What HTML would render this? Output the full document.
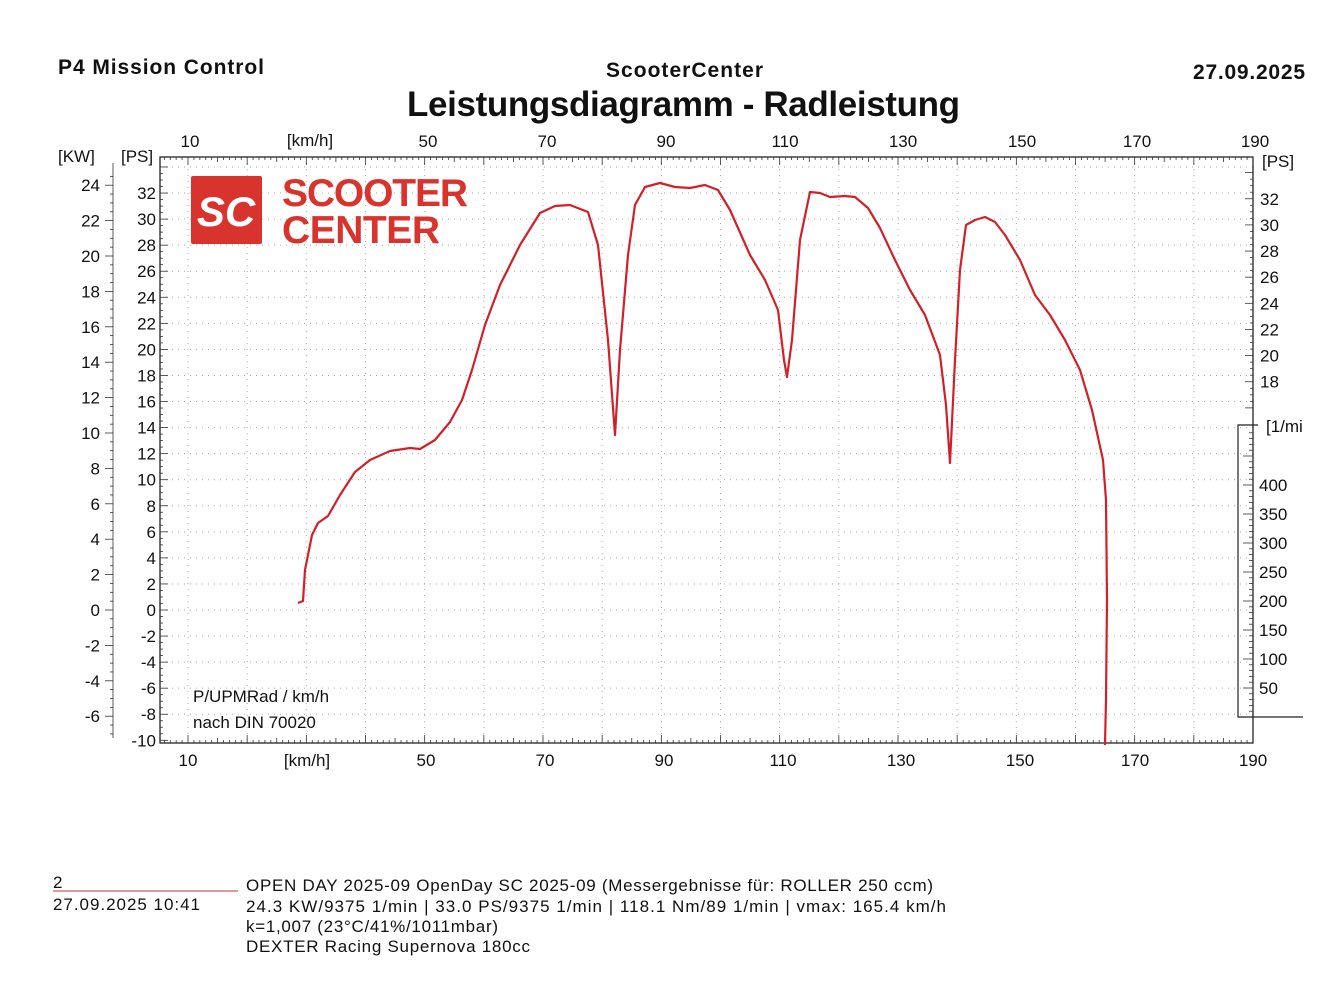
<!DOCTYPE html>
<html><head><meta charset="utf-8"><style>
body{margin:0;background:#fff;width:1321px;height:981px;overflow:hidden;font-family:"Liberation Sans",sans-serif}
svg text{font-family:"Liberation Sans",sans-serif;fill:#111}
</style></head><body>
<svg id="s" width="1321" height="981" xmlns="http://www.w3.org/2000/svg">
<text x="58" y="74" font-size="21" font-weight="bold" textLength="206">P4 Mission Control</text>
<text x="606" y="77" font-size="21" font-weight="bold" textLength="157">ScooterCenter</text>
<text x="1193" y="79" font-size="21" font-weight="bold" textLength="112">27.09.2025</text>
<text x="407" y="116" font-size="35" font-weight="bold" textLength="553">Leistungsdiagramm - Radleistung</text>
<g id="g"></g>
<rect x="191" y="176" width="71" height="68" fill="#d9332e" rx="2"/>
<text x="226" y="226" font-size="42" font-weight="bold" font-style="italic" text-anchor="middle" style="fill:#fff">SC</text>
<text x="282" y="206" font-size="39" font-weight="bold" style="fill:#d9332e" textLength="186">SCOOTER</text>
<text x="282" y="243" font-size="39" font-weight="bold" style="fill:#d9332e" textLength="158">CENTER</text>
<text x="193" y="702" font-size="17">P/UPMRad / km/h</text>
<text x="193" y="728" font-size="17">nach DIN 70020</text>
<path fill="none" stroke="#d0202a" stroke-width="2.2" stroke-linejoin="round" d="M298,603 L303,601 L305,570 L312,535 L318,523 L328,516 L340,495 L355,472 L370,460 L390,451 L410,448 L420,449 L435,440 L450,422 L462,400 L472,370 L485,325 L500,285 L520,245 L540,213 L555,206 L570,205 L588,212 L598,245 L608,340 L615,435 L620,350 L628,255 L635,205 L645,187 L660,183 L675,187 L690,188 L705,185 L718,190 L730,210 L750,255 L765,280 L778,310 L784,360 L787,377 L792,340 L800,240 L810,192 L820,193 L830,197 L845,196 L855,197 L868,208 L880,228 L895,260 L910,290 L925,315 L940,355 L946,405 L950,463 L955,360 L960,270 L966,225 L975,220 L985,217 L995,222 L1005,235 L1020,260 L1035,295 L1050,315 L1065,340 L1080,370 L1092,410 L1103,460 L1106,500 L1107,600 L1106,700 L1105,745"/>
<line x1="53" y1="891" x2="238" y2="891" stroke="#c03030" stroke-width="1"/>
<text x="53" y="888" font-size="17">2</text>
<text x="53" y="910" font-size="17" textLength="147">27.09.2025  10:41</text>
<text x="246" y="891" font-size="17" textLength="687">OPEN DAY 2025-09 OpenDay SC 2025-09 (Messergebnisse für: ROLLER 250 ccm)</text>
<text x="246" y="912" font-size="17" textLength="700">24.3 KW/9375 1/min  |  33.0 PS/9375 1/min  |  118.1 Nm/89 1/min |  vmax: 165.4 km/h</text>
<text x="246" y="932" font-size="17" textLength="252">k=1,007 (23°C/41%/1011mbar)</text>
<text x="246" y="952" font-size="17" textLength="284">DEXTER Racing Supernova 180cc</text>
</svg>
<script>
const g=document.getElementById('g');let h='';
const L=160,R=1253,T=157,B=743;
const X=v=>188+(v-10)*(1253-188)/180;
const PS=v=>610-v*13.03, KW=v=>610-v*17.7;
for(let v=10;v<=190;v+=10){const x=X(v);h+=`<line x1="${x}" y1="${T}" x2="${x}" y2="${B}" stroke="#aaa" stroke-dasharray="1,5" stroke-width="1"/>`;}
for(let v=-8;v<=34;v+=2){const y=PS(v);h+=`<line x1="${L}" y1="${y}" x2="${R}" y2="${y}" stroke="#aaa" stroke-dasharray="1,5" stroke-width="1"/>`;}
h+=`<rect x="${L}" y="${T}" width="${R-L}" height="${B-T}" fill="none" stroke="#222" stroke-width="1.3"/>`;
for(let v=6;v<=190;v+=1){const x=X(v);const len=v%10==0?8:(v%5==0?5:3);
 h+=`<line x1="${x}" y1="${B}" x2="${x}" y2="${B-len}" stroke="#333" stroke-width="0.8"/><line x1="${x}" y1="${T}" x2="${x}" y2="${T+len}" stroke="#333" stroke-width="0.8"/>`;}
[[10,188],[50,426],[70,545],[90,664],[110,783],[130,901],[150,1020],[170,1135],[190,1253]].forEach(([v,x])=>{
 h+=`<text x="${x}" y="766" font-size="17" text-anchor="middle">${v}</text><text x="${x+2}" y="147" font-size="17" text-anchor="middle">${v}</text>`;});
h+=`<text x="307" y="766" font-size="17" text-anchor="middle">[km/h]</text><text x="310" y="146" font-size="17" text-anchor="middle">[km/h]</text>`;
for(let v=-10;v<=34;v+=0.5){const y=PS(v);const len=v%2==0?8:3;h+=`<line x1="${L}" y1="${y}" x2="${L+len}" y2="${y}" stroke="#333" stroke-width="0.8"/>`;}
for(let v=-10;v<=32;v+=2)h+=`<text x="156" y="${PS(v)+6}" font-size="17" text-anchor="end">${v}</text>`;
h+=`<text x="121" y="162" font-size="17">[PS]</text><text x="58" y="162" font-size="17">[KW]</text>`;
h+=`<line x1="113" y1="163" x2="113" y2="738" stroke="#333" stroke-width="0.8"/>`;
for(let v=-7;v<=24.6;v+=0.5){const y=KW(v);const len=v%2==0?8:3;h+=`<line x1="${113-len}" y1="${y}" x2="113" y2="${y}" stroke="#333" stroke-width="0.8"/>`;}
for(let v=-6;v<=24;v+=2)h+=`<text x="100" y="${KW(v)+6}" font-size="17" text-anchor="end">${v}</text>`;
const PR=v=>617-v*13.07;
for(let v=16;v<=34;v+=0.5){const y=PR(v);const len=v%2==0?8:3;h+=`<line x1="${R-len}" y1="${y}" x2="${R}" y2="${y}" stroke="#333" stroke-width="0.8"/>`;}
for(let v=18;v<=32;v+=2)h+=`<text x="1260" y="${PR(v)+6}" font-size="17">${v}</text>`;
h+=`<text x="1262" y="167" font-size="17">[PS]</text>`;
h+=`<polyline points="1258,425 1238,425 1238,717 1303,717" fill="none" stroke="#222" stroke-width="1.2"/>`;
h+=`<text x="1266" y="432" font-size="17">[1/mi</text>`;
const RP=v=>717-v*0.58;
for(let v=10;v<=490;v+=10){const y=RP(v);const len=v%50==0?10:4;h+=`<line x1="${1253-len}" y1="${y}" x2="1253" y2="${y}" stroke="#333" stroke-width="0.8"/>`;}
for(let v=50;v<=400;v+=50)h+=`<text x="1259" y="${RP(v)+6}" font-size="17">${v}</text>`;
g.innerHTML=h;
</script>
</body></html>
